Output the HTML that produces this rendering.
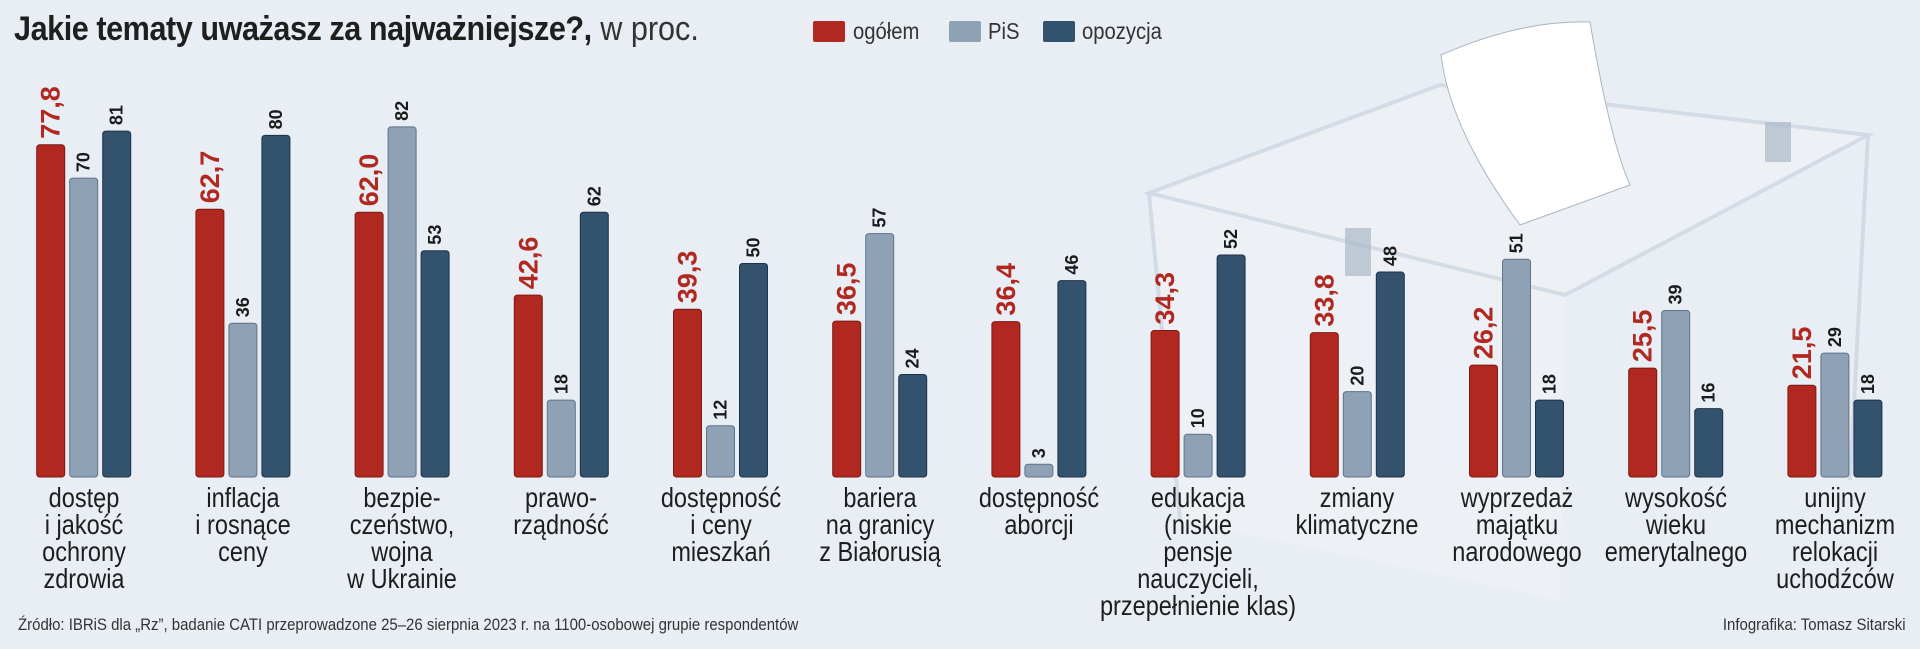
<!DOCTYPE html>
<html><head><meta charset="utf-8"><style>
body{margin:0;width:1920px;height:649px;background:#e9eef4;overflow:hidden;font-family:"Liberation Sans","DejaVu Sans",sans-serif;position:relative}
.c{position:absolute;white-space:nowrap}
#title{left:14px;top:10px;font-size:34px;color:#1f1f1f;transform:scaleX(0.9);transform-origin:left top}
#title b{font-weight:bold;letter-spacing:-0.5px}
#title span{font-weight:normal;color:#333}
.lg{position:absolute;top:21px;width:32px;height:21px;border-radius:2px}
.lt{position:absolute;top:18px;font-size:23px;color:#333;transform:scaleX(0.88);transform-origin:left top}
.cat{position:absolute;top:484px;width:260px;text-align:center;font-size:28px;line-height:27px;color:#1e1e1e;transform:scaleX(0.84);white-space:nowrap}
.foot{position:absolute;top:615px;font-size:17px;color:#333;transform:scaleX(0.88)}
</style></head><body>
<svg class="c" style="left:0;top:0" width="1920" height="649">
<g fill="#f2f5f9" opacity="0.45"><polygon points="1149,193 1440,85 1868,135 1565,295 1560,600 1180,520"/></g>
<g fill="none" stroke="#c9d4e0" stroke-width="4" opacity="0.7">
<polygon points="1149,193 1440,85 1868,135 1565,295"/>
<line x1="1149" y1="193" x2="1180" y2="520"/>
<line x1="1868" y1="135" x2="1850" y2="480"/>
</g>
<path d="M1441,55 Q1520,20 1590,22 Q1610,140 1630,185 L1520,225 Q1450,130 1441,55 Z" fill="#fff" stroke="#a8b5c4"/>
<rect x="1765" y="122" width="26" height="40" fill="#a9b8c8" opacity="0.7"/>
<rect x="1345" y="228" width="26" height="48" fill="#a9b8c8" opacity="0.7"/>
</svg>
<div id="title" class="c"><b>Jakie tematy uważasz za najważniejsze?,</b> <span>w proc.</span></div>
<div class="lg" style="left:813px;background:#b0281f"></div>
<div class="lt" style="left:853px">ogółem</div>
<div class="lg" style="left:949px;background:#8fa1b5"></div>
<div class="lt" style="left:988px">PiS</div>
<div class="lg" style="left:1043px;background:#33526e"></div>
<div class="lt" style="left:1082px">opozycja</div>
<svg id="chart" class="c" style="left:0;top:0" width="1920" height="649"></svg>
<div id="cats"></div>
<div class="foot" style="left:18px;transform-origin:left top">Źródło: IBRiS dla „Rz”, badanie CATI przeprowadzone 25–26 sierpnia 2023 r. na 1100-osobowej grupie respondentów</div>
<div class="foot" style="right:14px;transform-origin:right top">Infografika: Tomasz Sitarski</div>
<script>
const categories=[["dostęp","i jakość","ochrony","zdrowia"],["inflacja","i rosnące","ceny"],["bezpie-","czeństwo,","wojna","w Ukrainie"],["prawo-","rządność"],["dostępność","i ceny","mieszkań"],["bariera","na granicy","z Białorusią"],["dostępność","aborcji"],["edukacja","(niskie","pensje","nauczycieli,","przepełnienie klas)"],["zmiany","klimatyczne"],["wyprzedaż","majątku","narodowego"],["wysokość","wieku","emerytalnego"],["unijny","mechanizm","relokacji","uchodźców"]];
const ogolem=[77.8,62.7,62.0,42.6,39.3,36.5,36.4,34.3,33.8,26.2,25.5,21.5];
const pis=[70,36,82,18,12,57,3,10,20,51,39,29];
const opozycja=[81,80,53,62,50,24,46,52,48,18,16,18];
const NS="http://www.w3.org/2000/svg";
const svg=document.getElementById('chart');
const base=477, scale=4.27, x0=36.7, pitch=159.2, bw=28, step=33;
const y=v=>base-v*scale;
const gx=i=>x0+i*pitch;
const series=[{d:ogolem,f:"#b0281f",s:"#7d1a14",n:"ogolem",red:true},{d:pis,f:"#8fa1b5",s:"#5f7389",n:"pis"},{d:opozycja,f:"#33526e",s:"#1d3349",n:"opozycja"}];
series.forEach((se,k)=>{
 se.d.forEach((v,i)=>{
  const r=document.createElementNS(NS,'rect');
  const bx=gx(i)+k*step;
  r.setAttribute('x',bx);r.setAttribute('y',y(v));r.setAttribute('width',bw);r.setAttribute('height',base-y(v));
  r.setAttribute('rx',3);r.setAttribute('fill',se.f);r.setAttribute('stroke',se.s);r.setAttribute('stroke-width',1);
  
  
  svg.appendChild(r);
  const t=document.createElementNS(NS,'text');
  const tx=bx+bw/2+(se.red?9:6), ty=y(v)-6;
  t.setAttribute('transform','translate('+tx+','+ty+') rotate(-90)');
  t.setAttribute('font-family','"Liberation Sans", sans-serif');
  t.setAttribute('font-weight','bold');
  t.setAttribute('font-size',se.red?27:18);
  t.setAttribute('fill',se.red?'#b0281f':'#1b1b1b');
  t.textContent=se.red?v.toFixed(1).replace('.',','):String(v);
  
  
  svg.appendChild(t);
 });
});
const cats=document.getElementById('cats');
categories.forEach((lines,i)=>{
 const d=document.createElement('div');
 d.className='cat';
 d.style.left=(gx(i)+(bw+2*step)/2-130)+'px';
 d.innerHTML=lines.join('<br>');
 
 
 cats.appendChild(d);
});
</script>
</body></html>
